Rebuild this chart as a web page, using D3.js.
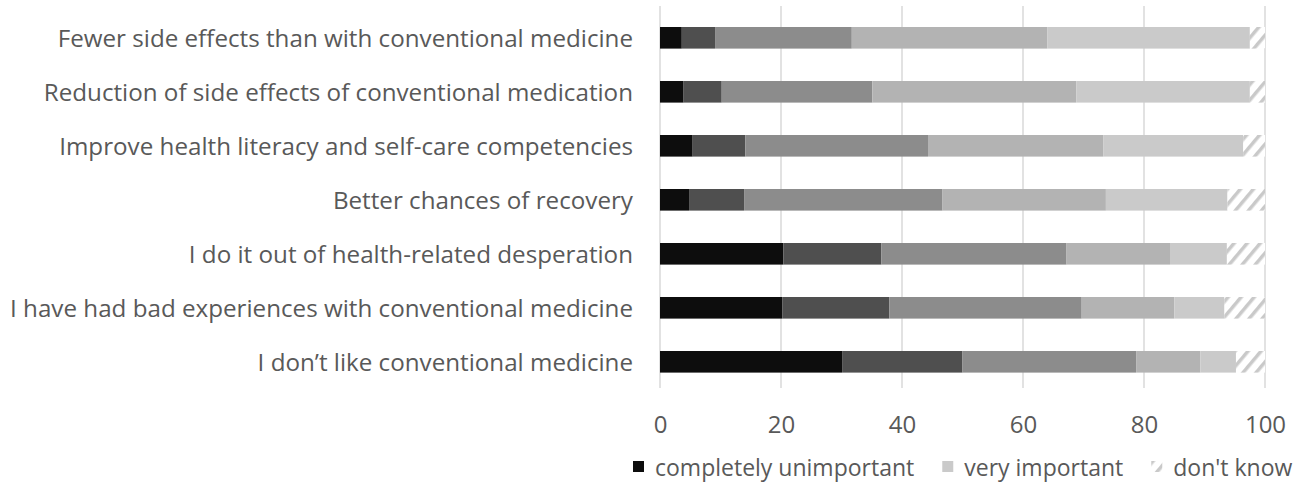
<!DOCTYPE html>
<html>
<head>
<meta charset="utf-8">
<script src="https://cdn.jsdelivr.net/npm/d3@7"></script>
<style>
  html, body { margin: 0; padding: 0; background: #fff; }
  svg text { font-family: "Open Sans", sans-serif; fill: #595959; }
</style>
</head>
<body>
<svg id="chart" width="1294" height="490"></svg>
<script>
// ---- Data (percent of respondents) ----
const categories = [
  'Fewer side effects than with conventional medicine',
  'Reduction of side effects of conventional medication',
  'Improve health literacy and self-care competencies',
  'Better chances of recovery',
  'I do it out of health-related desperation',
  'I have had bad experiences with conventional medicine',
  'I don\u2019t like conventional medicine'
];
const seriesNames = ['completely unimportant', 'rather unimportant', 'neutral',
                     'rather important', 'very important', "don't know"];
const completelyUnimportant = [3.6, 3.9, 5.4, 4.8, 20.4, 20.2, 30.1];
const ratherUnimportant     = [5.5, 6.3, 8.7, 9.1, 16.2, 17.7, 19.9];
const neutral               = [22.6, 24.9, 30.2, 32.8, 30.6, 31.8, 28.7];
const ratherImportant       = [32.3, 33.7, 29.0, 27.0, 17.1, 15.3, 10.6];
const veryImportant         = [33.5, 28.7, 23.1, 20.1, 9.4, 8.3, 5.9];
const dontKnow              = [2.5, 2.5, 3.6, 6.2, 6.3, 6.7, 4.8];
const xTicks = [0, 20, 40, 60, 80, 100];
const legendShown = ['completely unimportant', 'very important', "don't know"];

(function () {
  const W = 1294, H = 490;
  const M = { top: 10.8, left: 660, right: 29, bottom: 101.2 };
  const svg = d3.select('#chart');

  const rows = categories.map((c, i) => ({
    cat: c,
    'completely unimportant': completelyUnimportant[i],
    'rather unimportant': ratherUnimportant[i],
    'neutral': neutral[i],
    'rather important': ratherImportant[i],
    'very important': veryImportant[i],
    "don't know": dontKnow[i]
  }));

  const colors = {
    'completely unimportant': '#0d0d0d',
    'rather unimportant': '#4f4f4f',
    'neutral': '#8c8c8c',
    'rather important': '#b3b3b3',
    'very important': '#cacaca',
    "don't know": 'url(#hatch)'
  };

  // hatch pattern for "don't know"
  const defs = svg.append('defs');
  const pat = defs.append('pattern').attr('id', 'hatch')
    .attr('patternUnits', 'userSpaceOnUse')
    .attr('width', 10).attr('height', 10)
    .attr('patternTransform', 'rotate(40)');
  pat.append('rect').attr('width', 10).attr('height', 10).attr('fill', '#fff');
  pat.append('rect').attr('x', 0).attr('width', 3.5).attr('height', 10).attr('fill', '#c9c9c9');

  const x = d3.scaleLinear().domain([0, 100]).range([M.left, W - M.right]);
  const y = d3.scaleBand().domain(categories)
    .range([M.top, H - M.bottom])
    .paddingInner(0.6).paddingOuter(0.3);

  // gridlines
  svg.append('g').selectAll('line').data(xTicks).enter().append('line')
    .attr('x1', d => x(d)).attr('x2', d => x(d))
    .attr('y1', 6).attr('y2', 388)
    .attr('stroke', '#d9d9d9').attr('stroke-width', 1.5);

  // stacked bars
  const stack = d3.stack().keys(seriesNames)(rows);
  svg.append('g').selectAll('g').data(stack).enter().append('g')
    .attr('fill', d => colors[d.key])
    .selectAll('rect').data(d => d).enter().append('rect')
    .attr('x', d => x(d[0]))
    .attr('y', d => y(d.data.cat))
    .attr('width', d => x(d[1]) - x(d[0]))
    .attr('height', y.bandwidth());

  // category labels
  svg.append('g').selectAll('text').data(categories).enter().append('text')
    .attr('x', 633)
    .attr('y', d => y(d) + y.bandwidth() / 2)
    .attr('dy', '0.36em')
    .attr('text-anchor', 'end')
    .style('font-size', '24.2px')
    .text(d => d);

  // x axis labels
  const ax = svg.append('g').attr('transform', 'translate(0,388)')
    .call(d3.axisBottom(x).tickValues(xTicks).tickSize(0).tickPadding(0));
  ax.select('.domain').remove();
  ax.selectAll('text').attr('y', 45).attr('dy', 0)
    .style('font-size', '24px').style('fill', '#595959');

  // legend
  const lg = svg.append('g').attr('transform', 'translate(633,476)');
  let lx = 0;
  legendShown.forEach(name => {
    const item = lg.append('g').attr('transform', `translate(${lx},0)`);
    item.append('rect').attr('x', 0).attr('y', -15).attr('width', 11).attr('height', 11)
      .attr('fill', colors[name]);
    const t = item.append('text').attr('x', 22).attr('y', 0)
      .style('font-size', '23px').text(name);
    lx += 22 + t.node().getComputedTextLength() + 28;
  });
})();
</script>
</body>
</html>
